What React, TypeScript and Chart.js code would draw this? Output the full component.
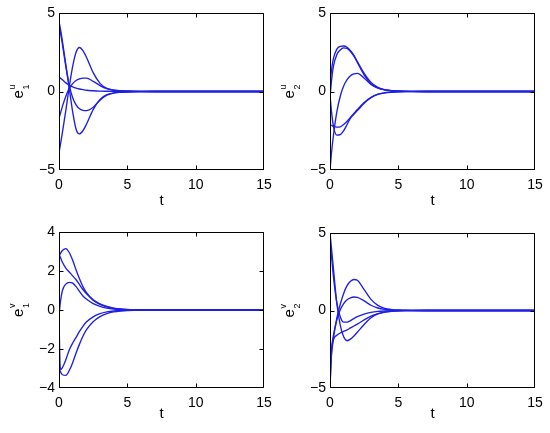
import React, { useEffect, useRef } from "react";
import { Chart, registerables } from "chart.js";
Chart.register(...registerables);

// time grid (s)
const T = [0, 0.1, 0.25, 0.5, 0.75, 1, 1.25, 1.5, 1.75, 2, 2.5, 3, 3.5, 4, 4.5, 5, 5.5, 6, 7, 15];

// e1^u
const E1U_A = [4.45, 4.0, 3.2, 1.7, 0.2, -1.3, -2.4, -2.7, -2.5, -2.1, -1.15, -0.5, -0.2, -0.09, -0.05, -0.03, -0.015, -0.007, 0, 0];
const E1U_B = [4.2, 3.8, 3.0, 1.6, 0.4, -0.4, -0.85, -1.1, -1.2, -1.22, -1.0, -0.55, -0.24, -0.1, -0.05, -0.025, -0.012, -0.005, 0, 0];
const E1U_C = [0.9, 0.85, 0.75, 0.55, 0.4, 0.3, 0.22, 0.16, 0.12, 0.08, 0.045, 0.025, 0.015, 0.008, 0.004, 0.002, 0, 0, 0, 0];
const E1U_D = [-1.7, -1.4, -0.95, -0.3, 0.2, 0.5, 0.7, 0.8, 0.85, 0.85, 0.65, 0.38, 0.18, 0.08, 0.04, 0.02, 0.01, 0.005, 0, 0];
const E1U_E = [-3.9, -3.4, -2.6, -1.2, 0.3, 1.6, 2.5, 2.8, 2.6, 2.2, 1.2, 0.52, 0.2, 0.09, 0.05, 0.03, 0.015, 0.007, 0, 0];

// e2^u
const E2U_A = [0.5, 1.3, 2.1, 2.7, 2.88, 2.9, 2.82, 2.6, 2.3, 1.9, 1.15, 0.58, 0.27, 0.12, 0.06, 0.035, 0.02, 0.01, 0.003, 0];
const E2U_B = [-0.4, 0.6, 1.6, 2.35, 2.65, 2.78, 2.75, 2.55, 2.25, 1.85, 1.05, 0.5, 0.23, 0.1, 0.05, 0.025, 0.012, 0.006, 0, 0];
const E2U_C = [-5, -4.0, -2.8, -1.3, -0.3, 0.35, 0.75, 1.0, 1.12, 1.15, 0.85, 0.45, 0.22, 0.1, 0.05, 0.025, 0.012, 0.006, 0, 0];
const E2U_D = [-2.1, -2.15, -2.22, -2.27, -2.25, -2.1, -1.9, -1.65, -1.4, -1.15, -0.7, -0.37, -0.17, -0.08, -0.04, -0.02, -0.01, -0.005, 0, 0];
const E2U_E = [-0.2, -1.2, -2.2, -2.78, -2.75, -2.5, -2.1, -1.7, -1.45, -1.22, -0.75, -0.4, -0.19, -0.09, -0.045, -0.025, -0.012, -0.006, 0, 0];

// e1^v
const E1V_A = [2.75, 2.9, 3.05, 3.15, 2.95, 2.55, 2.05, 1.6, 1.2, 0.9, 0.52, 0.31, 0.18, 0.1, 0.05, 0.025, 0.012, 0.006, 0, 0];
const E1V_B = [2.85, 2.7, 2.45, 2.15, 1.95, 1.75, 1.55, 1.3, 1.05, 0.84, 0.5, 0.29, 0.16, 0.08, 0.04, 0.02, 0.01, 0.005, 0, 0];
const E1V_C = [-0.3, 0.4, 1.0, 1.33, 1.42, 1.38, 1.2, 0.95, 0.72, 0.56, 0.33, 0.19, 0.1, 0.05, 0.025, 0.012, 0.006, 0, 0, 0];
const E1V_D = [-2.9, -3.15, -3.32, -3.35, -3.1, -2.7, -2.2, -1.75, -1.35, -1.02, -0.6, -0.34, -0.19, -0.1, -0.05, -0.025, -0.012, -0.006, 0, 0];
const E1V_E = [-0.5, -3.05, -2.95, -2.55, -2.05, -1.7, -1.4, -1.1, -0.84, -0.62, -0.35, -0.19, -0.1, -0.05, -0.025, -0.012, -0.006, 0, 0, 0];

// e2^v
const E2V_A = [5, 4.1, 2.7, 0.45, -0.95, -1.7, -1.95, -1.85, -1.65, -1.4, -0.9, -0.47, -0.22, -0.1, -0.05, -0.025, -0.012, -0.006, 0, 0];
const E2V_B = [-4.8, -3.0, -1.8, -0.5, 0.4, 1.1, 1.6, 1.88, 2.0, 1.95, 1.35, 0.72, 0.33, 0.14, 0.06, 0.03, 0.015, 0.007, 0, 0];
const E2V_C = [-3.6, -2.5, -1.6, -0.6, 0.05, 0.45, 0.7, 0.82, 0.87, 0.85, 0.62, 0.34, 0.16, 0.07, 0.035, 0.017, 0.008, 0.004, 0, 0];
const E2V_D = [4.5, 3.6, 2.2, 0.5, -0.4, -0.75, -0.75, -0.65, -0.52, -0.4, -0.23, -0.12, -0.06, -0.03, -0.015, -0.007, -0.003, 0, 0, 0];
const E2V_E = [-5, -2.8, -1.9, -1.6, -1.45, -1.35, -1.25, -1.12, -1.0, -0.88, -0.6, -0.36, -0.2, -0.1, -0.05, -0.025, -0.012, -0.006, 0, 0];

const X_MIN = 0;
const X_MAX = 15;
const X_STEP = 5;
const X_TITLE = "t";

const BLUE = "rgb(30,30,228)";
const FONT = '"Liberation Sans", Arial, Helvetica, sans-serif';

type Rect = { l: number; t: number; r: number; b: number };
type PanelProps = {
  left: number;
  top: number;
  w: number;
  h: number;
  plot: Rect;
  series: number[][];
  yMin: number;
  yMax: number;
  yStep: number;
  sup: string;
  sub: string;
  tGap: number;
};

function Panel(p: PanelProps) {
  const ref = useRef<HTMLCanvasElement>(null);
  useEffect(() => {
    const frame = {
      id: "frame",
      afterDraw(chart: any) {
        const { ctx, chartArea: a, scales } = chart;
        ctx.save();
        ctx.strokeStyle = "#000";
        ctx.lineWidth = 1;
        const L = Math.round(a.left) + 0.5;
        const R = Math.round(a.right) - 0.5;
        const Tp = Math.round(a.top) + 0.5;
        const B = Math.round(a.bottom) - 0.5;
        const clamp = (v: number, lo: number, hi: number) => Math.min(hi, Math.max(lo, v));
        ctx.beginPath();
        ctx.rect(L, Tp, R - L, B - Tp);
        const tl = 4;
        scales.x.ticks.forEach((tk: any) => {
          const x = clamp(Math.round(scales.x.getPixelForValue(tk.value)) + 0.5, L, R);
          ctx.moveTo(x, B);
          ctx.lineTo(x, B - tl);
          ctx.moveTo(x, Tp);
          ctx.lineTo(x, Tp + tl);
        });
        scales.y.ticks.forEach((tk: any) => {
          const y = clamp(Math.round(scales.y.getPixelForValue(tk.value)) + 0.5, Tp, B);
          ctx.moveTo(L, y);
          ctx.lineTo(L + tl, y);
          ctx.moveTo(R, y);
          ctx.lineTo(R - tl, y);
        });
        ctx.stroke();

        ctx.fillStyle = "#000";
        // x title
        ctx.font = `15px ${FONT}`;
        ctx.textAlign = "center";
        ctx.textBaseline = "alphabetic";
        ctx.fillText(X_TITLE, (a.left + a.right) / 2, a.bottom + p.tGap);

        // y title: e with superscript and subscript, rotated
        const cy = (a.top + a.bottom) / 2;
        const bx = a.left - 36;
        ctx.translate(bx, cy);
        ctx.rotate(-Math.PI / 2);
        ctx.textAlign = "left";
        ctx.font = `15px ${FONT}`;
        const we = ctx.measureText("e").width;
        ctx.font = `9px ${FONT}`;
        const ws = Math.max(ctx.measureText(p.sup).width, ctx.measureText(p.sub).width);
        const x0 = -(we + 0.5 + ws) / 2;
        ctx.font = `15px ${FONT}`;
        ctx.fillText("e", x0, 0);
        ctx.font = `9px ${FONT}`;
        ctx.fillText(p.sup, x0 + we + 0.5, -8.5);
        ctx.fillText(p.sub, x0 + we + 0.5, 6);
        ctx.restore();
      },
    };

    const chart = new Chart(ref.current as HTMLCanvasElement, {
      type: "line",
      data: {
        datasets: p.series.map((s) => ({
          data: T.map((t, i) => ({ x: t, y: s[i] })),
          borderColor: BLUE,
          borderWidth: 1.35,
          pointRadius: 0,
          fill: false,
          cubicInterpolationMode: "monotone" as const,
        })),
      },
      options: {
        responsive: false,
        animation: false,
        events: [],
        layout: { padding: { left: 0, top: p.plot.t, right: p.w - p.plot.r, bottom: 0 } },
        plugins: { legend: { display: false }, tooltip: { enabled: false } },
        scales: {
          x: {
            type: "linear",
            min: X_MIN,
            max: X_MAX,
            ticks: {
              stepSize: X_STEP,
              padding: 7,
              maxRotation: 0,
              color: "#000",
              font: { family: FONT, size: 14 },
            },
            grid: { display: false, drawTicks: false },
            border: { display: false },
            afterFit: (s: any) => {
              s.height = p.h - p.plot.b;
              s.paddingLeft = 0;
              s.paddingRight = 0;
            },
          },
          y: {
            type: "linear",
            min: p.yMin,
            max: p.yMax,
            ticks: {
              stepSize: p.yStep,
              padding: 4,
              color: "#000",
              font: { family: FONT, size: 14 },
              callback: (v: any) => String(v).replace("-", "\u2212"),
            },
            grid: { display: false, drawTicks: false },
            border: { display: false },
            afterFit: (s: any) => {
              s.width = p.plot.l;
              s.paddingTop = 0;
              s.paddingBottom = 0;
            },
          },
        },
      },
      plugins: [frame],
    });
    return () => chart.destroy();
  }, []);
  return (
    <canvas
      ref={ref}
      width={p.w}
      height={p.h}
      style={{ position: "absolute", left: p.left, top: p.top, width: p.w, height: p.h }}
    />
  );
}

export default function App() {
  return (
    <div style={{ position: "absolute", left: 0, top: 0, width: 550, height: 433, background: "#fff" }}>
      <Panel
        left={0}
        top={0}
        w={275}
        h={216}
        plot={{ l: 59, t: 13, r: 264, b: 170 }}
        series={[E1U_A, E1U_B, E1U_C, E1U_D, E1U_E]}
        yMin={-5}
        yMax={5}
        yStep={5}
        sup="u"
        sub="1"
        tGap={35}
      />
      <Panel
        left={275}
        top={0}
        w={275}
        h={216}
        plot={{ l: 55, t: 13, r: 260, b: 170 }}
        series={[E2U_A, E2U_B, E2U_C, E2U_D, E2U_E]}
        yMin={-5}
        yMax={5}
        yStep={5}
        sup="u"
        sub="2"
        tGap={35}
      />
      <Panel
        left={0}
        top={216}
        w={275}
        h={217}
        plot={{ l: 59, t: 16, r: 264, b: 172 }}
        series={[E1V_A, E1V_B, E1V_C, E1V_D, E1V_E]}
        yMin={-4}
        yMax={4}
        yStep={2}
        sup="v"
        sub="1"
        tGap={30}
      />
      <Panel
        left={275}
        top={216}
        w={275}
        h={217}
        plot={{ l: 55, t: 17, r: 260, b: 172 }}
        series={[E2V_A, E2V_B, E2V_C, E2V_D, E2V_E]}
        yMin={-5}
        yMax={5}
        yStep={5}
        sup="v"
        sub="2"
        tGap={30}
      />
    </div>
  );
}
